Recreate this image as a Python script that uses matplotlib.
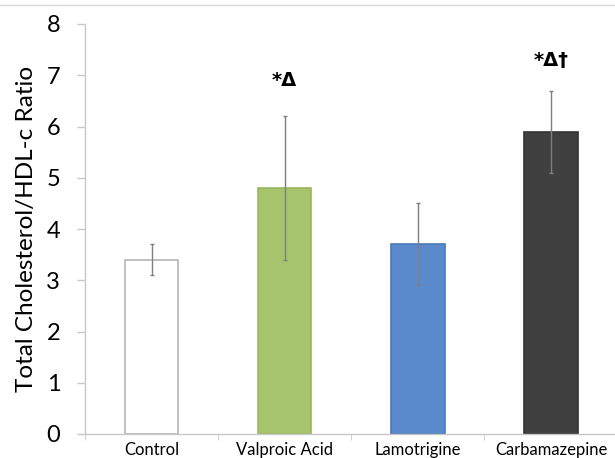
import matplotlib.pyplot as plt
import numpy as np

# data
groups = ['Control', 'Valproic Acid', 'Lamotrigine', 'Carbamazepine']
ratio = [3.4, 4.8, 3.7, 5.9]
err = [0.3, 1.4, 0.8, 0.8]
marks = ['', '*\u0394', '', '*\u0394\u2020']
mark_y = [0, 6.72, 0, 7.1]

face = ['white', '#a6c46c', '#5a8acb', '#404040']
edge = ['#b5b5b5', '#98b65e', '#4a7aba', '#333333']

plt.rcParams['font.family'] = ['Lato', 'DejaVu Sans']

fig = plt.figure(figsize=(6.15, 4.58), dpi=100)
ax = fig.add_axes([85 / 615, 1 - 434 / 458, 1 - 85 / 615, 410 / 458])

x = np.arange(len(groups))
ax.bar(x, ratio, width=0.40, color=face, edgecolor=edge, linewidth=1.2, zorder=2)
ax.errorbar(x, ratio, yerr=err, fmt='none', ecolor='#7f7f7f', elinewidth=1.0,
            capsize=1.5, capthick=1.0, zorder=3)

for xi, m, my in zip(x, marks, mark_y):
    if m:
        ax.text(xi, my, m, ha='center', va='bottom', fontsize=14, fontweight='bold',
                family=['DejaVu Sans'])

ax.set_xlim(-0.5, 3.48)
ax.set_ylim(0, 8)
ax.set_yticks(range(0, 9))
ax.tick_params(axis='y', labelsize=17, length=5.8, color='#c8c8c8', width=1, pad=12)
ax.set_xticks(x)
ax.set_xticklabels(groups, fontsize=12)
ax.set_xticks(np.arange(-0.5, 3.5, 1), minor=True)
ax.tick_params(axis='x', which='major', length=0, pad=6)
ax.tick_params(axis='x', which='minor', length=4, color='#c8c8c8')

for s in ['top', 'right']:
    ax.spines[s].set_visible(False)
for s in ['left', 'bottom']:
    ax.spines[s].set_color('#c8c8c8')
    ax.spines[s].set_linewidth(1)

ax.set_ylabel('Total Cholesterol/HDL-c Ratio', fontsize=17.5, labelpad=7)

# thin gray border line along the top of the image
fig.add_artist(plt.Line2D([0, 1], [1 - 5 / 458, 1 - 5 / 458], color='#d9d9d9', lw=1))

fig.savefig('out.png', dpi=100)
